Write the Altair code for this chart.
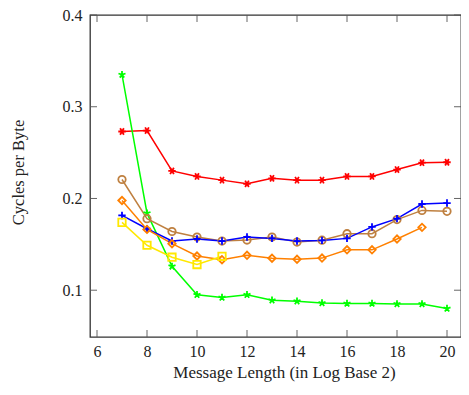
import altair as alt
import pandas as pd

msg_len = [7, 8, 9, 10, 11, 12, 13, 14, 15, 16, 17, 18, 19, 20]

series_names = ["red", "green", "brown", "blue", "orange", "yellow"]
red_vals = [0.273, 0.274, 0.230, 0.224, 0.220, 0.216, 0.222, 0.220, 0.220, 0.224, 0.224, 0.2315, 0.239, 0.2395]
green_vals = [0.335, 0.184, 0.126, 0.095, 0.092, 0.095, 0.089, 0.088, 0.086, 0.0855, 0.0855, 0.085, 0.085, 0.080]
brown_vals = [0.2207, 0.178, 0.164, 0.158, 0.1536, 0.1547, 0.158, 0.1525, 0.1545, 0.1616, 0.1616, 0.177, 0.187, 0.186]
blue_vals = [0.1815, 0.167, 0.1536, 0.1558, 0.1536, 0.158, 0.1565, 0.1536, 0.1543, 0.1565, 0.169, 0.178, 0.194, 0.195]
orange_vals = [0.1978, 0.1663, 0.1507, 0.1373, 0.1333, 0.138, 0.1349, 0.1337, 0.135, 0.144, 0.144, 0.1558, 0.1685]
yellow_vals = [0.174, 0.149, 0.136, 0.128, 0.137]

x_ticks = [6, 8, 10, 12, 14, 16, 18, 20]
y_ticks = [0.1, 0.2, 0.3, 0.4]

colors = ["#ff0000", "#00ff00", "#bf8040", "#0000ff", "#ff8000", "#ffe800"]
shapes = [
    "M-1,0L1,0M-0.5,-0.866L0.5,0.866M-0.5,0.866L0.5,-0.866",
    "M0,0L0,-1M0,0L0.951,-0.309M0,0L0.588,0.809M0,0L-0.588,0.809M0,0L-0.951,-0.309",
    "circle",
    "M-1,0L1,0M0,-1L0,1",
    "diamond",
    "square",
]

rows = []
for name, vals in zip(series_names, [red_vals, green_vals, brown_vals, blue_vals, orange_vals, yellow_vals]):
    for xv, yv in zip(msg_len, vals):
        rows.append({"series": name, "x": xv, "y": yv})
df = pd.DataFrame(rows)

W, H = 371, 322
FONT = "Liberation Serif"

xscale = alt.Scale(domain=[5.72, 5.72 + W / 25.0], nice=False, zero=False)
yscale = alt.Scale(domain=[0.049, 0.4], nice=False, zero=False)
cscale = alt.Scale(domain=series_names, range=colors)
sscale = alt.Scale(domain=series_names, range=shapes)

x_enc = alt.X("x:Q", scale=xscale,
              axis=alt.Axis(values=x_ticks, format="d", ticks=False, domain=False, grid=False,
                            labelFont=FONT, labelFontSize=16, labelColor="#222", labelPadding=6,
                            title="Message Length (in Log Base 2)", titleFont=FONT, titleFontSize=17,
                            titleFontWeight="normal", titleColor="#222", titleBaseline="alphabetic",
                            titleY=40, titleX=194))
y_enc = alt.Y("y:Q", scale=yscale,
              axis=alt.Axis(values=y_ticks, format=".1f", ticks=False, domain=False, grid=False,
                            labelFont=FONT, labelFontSize=16, labelColor="#222", labelPadding=8,
                            title="Cycles per Byte", titleFont=FONT, titleFontSize=16.5,
                            titleFontWeight="normal", titleColor="#222", titleX=-72, titleY=157,
                            titleBaseline="middle"))

base = alt.Chart(df)
lines = base.mark_line(strokeWidth=1.5).encode(
    x=x_enc, y=y_enc,
    color=alt.Color("series:N", scale=cscale, legend=None),
    detail="series:N",
)
points = base.mark_point(filled=False, strokeWidth=1.8, size=55, opacity=1).encode(
    x=alt.X("x:Q", scale=xscale), y=alt.Y("y:Q", scale=yscale),
    color=alt.Color("series:N", scale=cscale, legend=None),
    shape=alt.Shape("series:N", scale=sscale, legend=None),
)

xt = pd.DataFrame({"t": x_ticks})
yt = pd.DataFrame({"t": y_ticks})
tick_style = dict(color="#555", strokeWidth=0.9)
bottom_ticks = alt.Chart(xt).mark_rule(**tick_style).encode(
    x=alt.X("t:Q", scale=xscale), y=alt.value(H), y2=alt.value(H - 7))
top_ticks = alt.Chart(xt).mark_rule(**tick_style).encode(
    x=alt.X("t:Q", scale=xscale), y=alt.value(0), y2=alt.value(7))
left_ticks = alt.Chart(yt).mark_rule(**tick_style).encode(
    y=alt.Y("t:Q", scale=yscale), x=alt.value(0), x2=alt.value(7))
right_ticks = alt.Chart(yt).mark_rule(**tick_style).encode(
    y=alt.Y("t:Q", scale=yscale), x=alt.value(W), x2=alt.value(W - 7))

chart = alt.layer(bottom_ticks, top_ticks, left_ticks, right_ticks, lines, points).properties(
    width=W, height=H,
    autosize=alt.AutoSizeParams(type="none"),
    padding={"left": 82, "top": 7, "right": 0, "bottom": 50},
).configure_view(stroke="#333", strokeWidth=1.3)

chart.save("out.html", embed_options={"renderer": "svg", "actions": False})
